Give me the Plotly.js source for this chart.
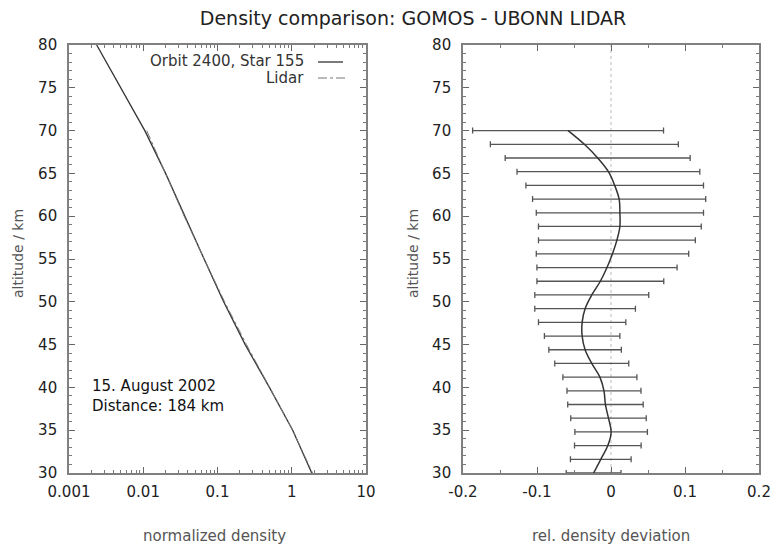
<!DOCTYPE html>
<html>
<head>
<meta charset="utf-8">
<script src="https://cdn.plot.ly/plotly-3.0.1.min.js"></script>
<style>html,body{margin:0;padding:0;background:#fff;}#chart{width:775px;height:548px;}</style>
</head>
<body>
<div id="chart"></div>
<script>
// Left panel: normalized density profiles
const gomosAlt = [80, 75, 70, 65, 60, 55, 50, 45, 40, 35, 30];
const gomosDensity = [0.00236, 0.0050, 0.0105, 0.020, 0.036, 0.066, 0.121, 0.236, 0.50, 1.03, 1.86];
const lidarAlt = [70, 65, 60, 55, 50, 45, 40, 35, 30];
const lidarDensity = [0.01115, 0.0201, 0.0356, 0.0661, 0.1247, 0.2456, 0.5066, 1.03, 1.904];

// Right panel: relative density deviation with error bars
const devAlt = [30, 31.6, 33.2, 34.8, 36.4, 38, 39.6, 41.2, 42.8, 44.4, 46, 47.6, 49.2, 50.8, 52.4, 54, 55.6, 57.2, 58.8, 60.4, 62, 63.6, 65.2, 66.8, 68.4, 70];
const deviation = [-0.0235, -0.0138, -0.0043, 0.0002, -0.0034, -0.0075, -0.0095, -0.015, -0.026, -0.035, -0.039, -0.039, -0.035, -0.026, -0.0144, -0.0054, 0.002, 0.008, 0.012, 0.012, 0.011, 0.005, -0.0035, -0.018, -0.036, -0.058];
const deviationErr = [0.037, 0.041, 0.045, 0.049, 0.051, 0.051, 0.050, 0.050, 0.050, 0.049, 0.051, 0.059, 0.068, 0.077, 0.0857, 0.0947, 0.103, 0.106, 0.110, 0.113, 0.117, 0.120, 0.1235, 0.125, 0.127, 0.129];

// Tick labels
const logTickVals = [0.001, 0.01, 0.1, 1, 10];
const logTickText = ["0.001", "0.01", "0.1", "1", "10"];
const devTickVals = [-0.2, -0.1, 0, 0.1, 0.2];
const devTickText = ["-0.2", "-0.1", "0", "0.1", "0.2"];

const W = 775, H = 548;
const px = v => v / W;
const py = v => 1 - v / H;

const FONT = "DejaVu Sans, Verdana, sans-serif";
const tickFont = {family: FONT, size: 15, color: "#222"};
const frame = {
  showline: true, linecolor: "#808080", linewidth: 1.8, mirror: "allticks",
  ticks: "inside", ticklen: 6, tickwidth: 1, tickcolor: "#666",
  showgrid: false, zeroline: false, tickfont: tickFont, automargin: false, fixedrange: true
};

const traces = [
  {x: gomosDensity, y: gomosAlt, xaxis: "x", yaxis: "y", mode: "lines",
   line: {color: "#333", width: 1.3}, name: "Orbit 2400, Star 155"},
  {x: lidarDensity, y: lidarAlt, xaxis: "x", yaxis: "y", mode: "lines",
   line: {color: "#777", width: 1, dash: "dashdot"}, name: "Lidar"},
  {x: deviation, y: devAlt, xaxis: "x2", yaxis: "y2", mode: "lines",
   line: {color: "#333", width: 1.5, shape: "spline"},
   error_x: {type: "data", array: deviationErr, symmetric: true, color: "#555", thickness: 1.3, width: 3},
   name: "deviation"}
];

const yDomain = [py(473), py(45)];
const yCommon = {range: [30, 80], domain: yDomain, dtick: 5, tick0: 30, ticklabelstandoff: 7,
  minor: {ticks: "inside", ticklen: 3, tickcolor: "#777", dtick: 1, showgrid: false}};
const layout = {
  width: W, height: H,
  margin: {l: 0, r: 0, t: 0, b: 0},
  paper_bgcolor: "#fff", plot_bgcolor: "#fff",
  showlegend: false,
  font: {family: FONT},
  title: {text: "Density comparison: GOMOS - UBONN LIDAR", font: {family: FONT, size: 19, color: "#222"},
          x: px(413), xref: "paper", xanchor: "center", y: py(18), yref: "paper", yanchor: "middle"},
  xaxis: Object.assign({}, frame, {
    type: "log", range: [-3, 1], domain: [px(69), px(366)], anchor: "y", ticklabelstandoff: 4,
    tickmode: "array", tickvals: logTickVals, ticktext: logTickText,
    minor: {ticks: "inside", ticklen: 3, tickcolor: "#777", dtick: "D1", showgrid: false}
  }),
  yaxis: Object.assign({}, frame, yCommon, {anchor: "x"}),
  xaxis2: Object.assign({}, frame, {
    range: [-0.2, 0.2], domain: [px(463), px(759)], anchor: "y2", ticklabelstandoff: 4,
    tickmode: "array", tickvals: devTickVals, ticktext: devTickText,
    minor: {ticks: "inside", ticklen: 3, tickcolor: "#777", dtick: 0.05, tick0: 0, showgrid: false}
  }),
  yaxis2: Object.assign({}, frame, yCommon, {anchor: "x2"}),
  shapes: [
    {type: "line", xref: "x2", x0: 0, x1: 0, yref: "y2 domain", y0: 0, y1: 1,
     line: {color: "#bbb", width: 1, dash: "dot"}, layer: "below"},
    {type: "line", xref: "paper", yref: "paper", x0: px(318), x1: px(343), y0: py(62), y1: py(62),
     line: {color: "#333", width: 1.3}},
    {type: "line", xref: "paper", yref: "paper", x0: px(318), x1: px(345), y0: py(78), y1: py(78),
     line: {color: "#777", width: 1, dash: "dashdot"}}
  ],
  annotations: [
    {text: "Orbit 2400, Star 155", xref: "paper", yref: "paper", x: px(306), y: py(61),
     xanchor: "right", yanchor: "middle", showarrow: false, font: {family: FONT, size: 15, color: "#333"}},
    {text: "Lidar", xref: "paper", yref: "paper", x: px(306), y: py(78),
     xanchor: "right", yanchor: "middle", showarrow: false, font: {family: FONT, size: 15, color: "#333"}},
    {text: "15. August 2002<br>Distance: 184 km", xref: "paper", yref: "paper", x: px(90), y: py(396),
     xanchor: "left", yanchor: "middle", align: "left", showarrow: false,
     font: {family: FONT, size: 15, color: "#111"}},
    {text: "altitude / km", xref: "paper", yref: "paper", x: px(18), y: py(254), textangle: -90,
     xanchor: "center", yanchor: "middle", showarrow: false, font: {family: FONT, size: 14, color: "#555"}},
    {text: "altitude / km", xref: "paper", yref: "paper", x: px(413), y: py(254), textangle: -90,
     xanchor: "center", yanchor: "middle", showarrow: false, font: {family: FONT, size: 14, color: "#555"}},
    {text: "normalized density", xref: "paper", yref: "paper", x: px(214), y: py(536),
     xanchor: "center", yanchor: "middle", showarrow: false, font: {family: FONT, size: 15, color: "#555"}},
    {text: "rel. density deviation", xref: "paper", yref: "paper", x: px(611), y: py(536),
     xanchor: "center", yanchor: "middle", showarrow: false, font: {family: FONT, size: 15, color: "#555"}}
  ]
};

Plotly.newPlot("chart", traces, layout, {staticPlot: true, displayModeBar: false});
</script>
</body>
</html>
